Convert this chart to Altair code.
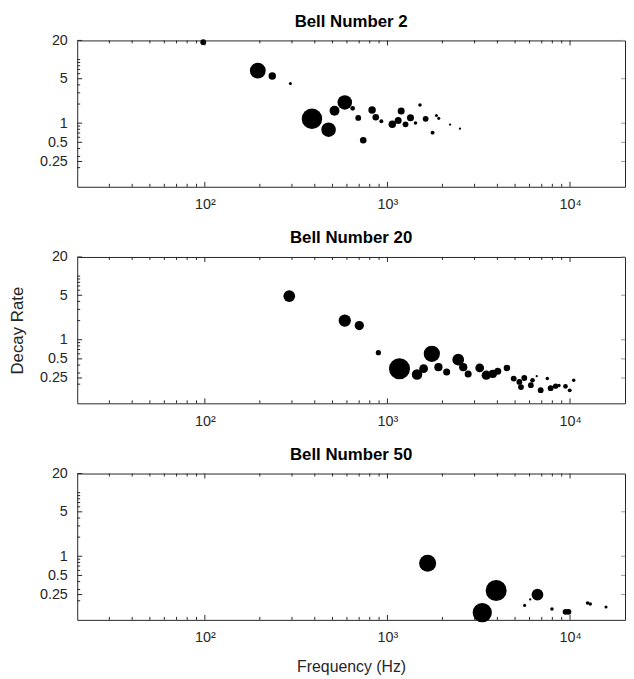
import altair as alt
import pandas as pd

# ---------------- data ----------------
titles = ["Bell Number 2", "Bell Number 20", "Bell Number 50"]

freq_2 = [98, 195, 234, 294, 386, 476, 513, 584, 645, 692, 737, 824, 863, 926,
          1063, 1145, 1189, 1256, 1337, 1424, 1507, 1619, 1767, 1855, 1910, 2203, 2495]
rate_2 = [18.8, 6.7, 5.5, 4.2, 1.17, 0.79, 1.57, 2.12, 1.71, 1.21, 0.54, 1.61, 1.24, 1.07,
          0.96, 1.10, 1.56, 0.96, 1.22, 1.01, 1.93, 1.17, 0.71, 1.32, 1.19, 0.95, 0.82]
amp_2 = [11, 81, 18, 3, 137, 69, 32, 69, 7, 11, 14, 18, 14, 5,
         18, 16, 16, 11, 16, 4, 4, 11, 5, 3, 3, 1.7, 1.7]

freq_20 = [290, 584, 701, 892, 1164, 1452, 1578, 1750, 1902, 2110, 2441, 2600, 2767,
           3200, 3476, 3777, 4019, 4514, 4914, 5277, 5616, 5386, 6100, 6230, 6570,
           6905, 7508, 7830, 8336, 8690, 9443, 9960, 10470]
rate_20 = [4.86, 2.0, 1.67, 0.625, 0.35, 0.284, 0.35, 0.60, 0.37, 0.31, 0.485, 0.37, 0.29,
           0.36, 0.277, 0.29, 0.32, 0.36, 0.245, 0.217, 0.25, 0.18, 0.193, 0.231, 0.267,
           0.161, 0.245, 0.173, 0.186, 0.19, 0.185, 0.16, 0.231]
amp_20 = [45, 49, 28, 9, 144, 36, 25, 86, 22, 16, 45, 22, 16,
          25, 28, 22, 16, 14, 11, 11, 11, 11, 11, 7, 1.7,
          11, 4, 11, 9, 4, 7, 5, 4]

freq_50 = [1660, 3940, 3306, 6630, 6050, 5640, 7960, 9450, 9800, 12470, 12900, 15740]
rate_50 = [0.78, 0.29, 0.13, 0.25, 0.21, 0.169, 0.148, 0.134, 0.134, 0.184, 0.178, 0.159]
amp_50 = [94, 144, 121, 45, 1.7, 3, 4, 11, 11, 4, 4, 3]

x_major = [100, 1000, 10000]
x_minor = [30, 40, 50, 60, 70, 80, 90, 200, 300, 400, 500, 600, 700, 800, 900,
           2000, 3000, 4000, 5000, 6000, 7000, 8000, 9000]
y_major = [0.25, 0.5, 1, 5, 20]
y_minor = [0.2, 0.3, 0.4, 0.6, 0.7, 0.8, 0.9, 2, 3, 4, 6, 7, 8, 9, 10]

# ---------------- style ----------------
FONT = "Liberation Sans"
AX = "#262626"
W, H = 554, 148

xscale = alt.Scale(type="log", domain=[20, 20000], nice=False)
yscale = alt.Scale(type="log", domain=[0.1, 20], nice=False)


def x_ticks(vals, y0, y1):
    return alt.Chart(pd.DataFrame({"t": vals})).mark_rule(color=AX, strokeWidth=1).encode(
        x=alt.X("t:Q", scale=xscale, axis=None),
        y=alt.value(y0), y2=alt.value(y1))


def y_ticks(vals, x0, x1, color=AX):
    return alt.Chart(pd.DataFrame({"t": vals})).mark_rule(color=color, strokeWidth=1).encode(
        y=alt.Y("t:Q", scale=yscale, axis=None),
        x=alt.value(x0), x2=alt.value(x1))


def panel(title, freq, rate, amp, show_ytitle, show_xtitle):
    df = pd.DataFrame({"f": freq, "r": rate, "a": amp})
    xaxis = alt.Axis(
        values=x_major,
        labelExpr="datum.value == 100 ? '10²' : datum.value == 1000 ? '10³' : '10⁴'",
        ticks=False, domain=False, grid=False, labelPadding=11,
        labelFontSize=14.5, labelColor=AX, labelFont=FONT,
        titleFontSize=16, titleFont=FONT, titleFontWeight="normal",
        titleColor=AX, titlePadding=15,
    )
    yaxis = alt.Axis(
        values=y_major, labelExpr="datum.value + ''",
        ticks=False, domain=False, grid=False, labelPadding=10,
        labelFontSize=14.5, labelColor=AX, labelFont=FONT,
        titleFontSize=17, titleFont=FONT, titleFontWeight="normal",
        titleColor=AX, titlePadding=13,
    )
    pts = alt.Chart(df).mark_circle(color="black", opacity=1).encode(
        x=alt.X("f:Q", scale=xscale, axis=xaxis,
                title="Frequency (Hz)" if show_xtitle else None),
        y=alt.Y("r:Q", scale=yscale, axis=yaxis,
                title="Decay Rate" if show_ytitle else None),
        size=alt.Size("a:Q", scale=alt.Scale(domain=[0, 100], range=[0, 314.16]),
                      legend=None),
    )
    layers = [
        pts,
        x_ticks(x_major, H, H - 5), x_ticks(x_minor, H, H - 3),
        x_ticks(x_major, 0, 5), x_ticks(x_minor, 0, 3),
        y_ticks(y_major, 0, 5), y_ticks(y_minor, 0, 3),
        y_ticks(y_major, W, W - 4, "#9a9a9a"),
    ]
    return alt.layer(*layers).resolve_axis(x="independent", y="independent").properties(
        width=W, height=H,
        title=alt.TitleParams(title, fontSize=17, fontWeight="bold", font=FONT,
                              color="black", anchor="middle", offset=2),
    )


chart = alt.vconcat(
    panel(titles[0], freq_2, rate_2, amp_2, False, False),
    panel(titles[1], freq_20, rate_20, amp_20, True, False),
    panel(titles[2], freq_50, rate_50, amp_50, False, True),
    spacing=17,
    padding=0,
).configure(background="white").configure_view(stroke=AX, strokeWidth=1)

chart.save("out.html", embed_options={"renderer": "svg", "actions": False})
